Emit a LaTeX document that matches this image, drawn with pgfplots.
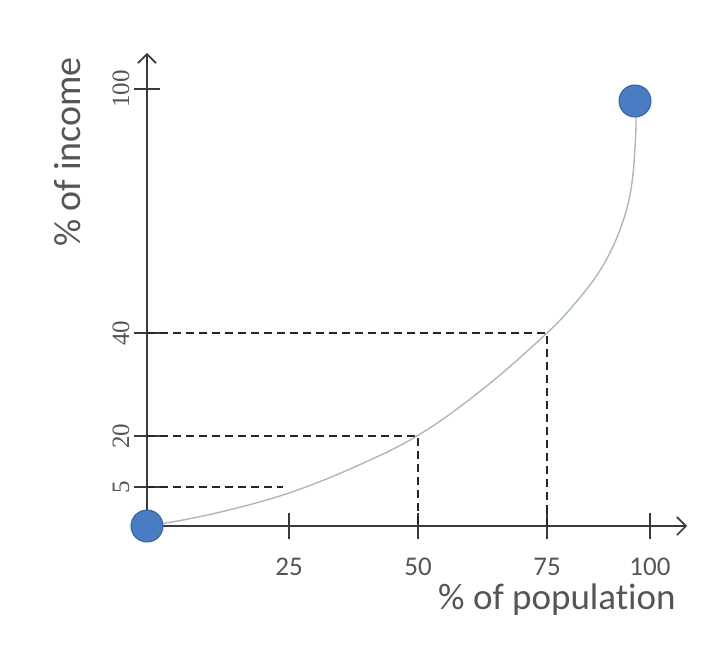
\documentclass[border=0pt]{standalone}
\usepackage{fontspec}
\setmainfont{Carlito}[Ligatures=NoCommon]
\newfontfamily\tickfont{Liberation Serif}
\usepackage{pgfplots}
\pgfplotsset{compat=1.18}
\usetikzlibrary{arrows.meta}

\definecolor{axisgray}{HTML}{3A3A3A}
\definecolor{labelgray}{HTML}{555555}
\definecolor{curvegray}{HTML}{A8B8C0}
\definecolor{dotblue}{HTML}{4A7CC4}
\definecolor{dotedge}{HTML}{34609C}

\begin{document}
\begin{tikzpicture}
% one unit = one pixel of the reference, origin at the axes' corner
\begin{axis}[
    x=1pt, y=1pt,
    xmin=0, xmax=540, ymin=0, ymax=473,
    axis lines=left,
    axis line style={axisgray, line width=2.2pt, -{Straight Barb[length=9pt,width=18pt,line width=1.6pt]}},
    clip=false,
    xtick={142,271,400,503},
    xticklabels={25,50,75,100},
    ytick={39,90,193,437},
    yticklabels={5,20,40,100},
    major tick length=26pt,
    tick align=center,
    tick style={axisgray, line width=1.8pt},
    xticklabel style={font=\fontsize{27}{27}\selectfont, text=labelgray, anchor=center, yshift=-28pt},
    yticklabel style={font=\tickfont\fontsize{25}{25}\selectfont, text=labelgray, rotate=90, anchor=center, yshift=13pt},
]
% dashed guide lines
\addplot[black!85, line width=1.6pt, dash pattern=on 8pt off 5pt] coordinates {(0,39) (136,39)};
\addplot[black!85, line width=1.6pt, dash pattern=on 8pt off 5pt] coordinates {(0,90) (271,90) (271,0)};
\addplot[black!85, line width=1.6pt, dash pattern=on 8pt off 5pt] coordinates {(0,193) (400,193) (400,0)};
% Lorenz curve
\addplot[curvegray, line width=1.4pt, smooth, tension=0.6] coordinates {
(0,0) (36,6) (86,17) (142,33) (203,57) (270,90) (336,137) (400,193)
(430,225) (452,254) (468,284) (480,318) (486,352) (489,400) (488,425)};
% end points
\addplot[only marks, mark=*, mark size=16pt, mark options={fill=dotblue, draw=dotedge, line width=1pt}]
  coordinates {(0,0) (488,425)};
\end{axis}
\node[text=labelgray, font=\fontsize{38}{38}\selectfont, rotate=90] at (-79pt,374pt) {\% of income};
\node[text=labelgray, font=\fontsize{37}{37}\selectfont] at (410pt,-74pt) {\% of population};
\path[use as bounding box] (-147pt,-120pt) rectangle (578pt,526pt);
\end{tikzpicture}
\end{document}
